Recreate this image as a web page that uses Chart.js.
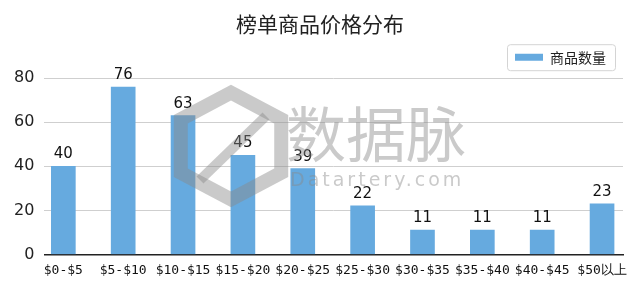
<!DOCTYPE html>
<html>
<head>
<meta charset="utf-8">
<script src="https://cdn.jsdelivr.net/npm/chart.js@4"></script>
<style>
  html, body { margin: 0; padding: 0; background: #fff; }
  #wrap { width: 640px; height: 291px; position: relative; }
</style>
</head>
<body>
<div id="wrap"><canvas id="price-chart"></canvas></div>
<script>
// Price buckets and product counts
let categories = ['$0-$5', '$5-$10', '$10-$15', '$15-$20', '$20-$25', '$25-$30', '$30-$35', '$35-$40', '$40-$45', '$50以上'];
let counts = [40, 76, 63, 45, 39, 22, 11, 11, 11, 23];
let yTicks = [0, 20, 40, 60, 80];

let chartTitle = '榜单商品价格分布';
let seriesName = '商品数量';
let barColor = '#66aadf';

// Centre the title on the whole canvas, lift title and legend a little
let placeBlocks = {
    id: 'placeBlocks',
    afterLayout(chart) {
        let t = chart.titleBlock;
        if (t) { t.left = 0; t.right = chart.width; t.width = chart.width; t.top -= 3; t.bottom -= 3; }
        let lg = chart.legend;
        if (lg) { lg.right -= 4; lg.top -= 4; lg.bottom -= 4; }
    }
};

// Draws the value above every bar
let valueLabels = {
    id: 'valueLabels',
    afterDatasetsDraw(chart) {
        let ctx = chart.ctx;
        let meta = chart.getDatasetMeta(0);
        ctx.save();
        ctx.font = '15px "DejaVu Sans"';
        ctx.fillStyle = '#111';
        ctx.textAlign = 'center';
        ctx.textBaseline = 'alphabetic';
        meta.data.forEach((bar, i) => {
            ctx.fillText(counts[i], bar.x, bar.y - 8);
        });
        ctx.restore();
    }
};

// Rounded frame round the legend
let legendFrame = {
    id: 'legendFrame',
    afterDraw(chart) {
        let lg = chart.legend;
        if (!lg || !lg.legendHitBoxes.length) return;
        let hb = lg.legendHitBoxes[0];
        let ctx = chart.ctx;
        let x = hb.left - 8, y = hb.top - 6, w = hb.width + 17, h = hb.height + 12;
        ctx.save();
        ctx.strokeStyle = '#d4d4d4';
        ctx.lineWidth = 1;
        ctx.beginPath();
        ctx.roundRect(x + 0.5, y + 0.5, w, h, 3);
        ctx.stroke();
        ctx.restore();
    }
};

// Watermark over the plot
let watermark = {
    id: 'watermark',
    afterDraw(chart) {
        let ctx = chart.ctx;
        ctx.save();
        ctx.globalAlpha = 0.45;
        ctx.strokeStyle = '#8a8a8a';
        ctx.fillStyle = '#8a8a8a';
        // hexagon logo
        ctx.lineWidth = 14;
        ctx.beginPath();
        let cx = 231, cy = 146, r = 58;
        for (let k = 0; k < 6; k++) {
            let a = Math.PI / 3 * k - Math.PI / 2;
            let px = cx + r * Math.cos(a), py = cy + r * 0.92 * Math.sin(a);
            if (k === 0) ctx.moveTo(px, py); else ctx.lineTo(px, py);
        }
        ctx.closePath();
        ctx.stroke();
        ctx.lineWidth = 10;
        ctx.beginPath();
        ctx.moveTo(200, 180);
        ctx.lineTo(266, 116);
        ctx.stroke();
        ctx.font = '60px "Noto Sans CJK SC"';
        ctx.textAlign = 'left';
        ctx.textBaseline = 'alphabetic';
        ctx.fillText('数据脉', 286, 157);
        ctx.font = '19px "DejaVu Sans"';
        ctx.letterSpacing = '3px';
        ctx.fillText('Datartery.com', 290, 186);
        ctx.restore();
    }
};

let priceChart = new Chart(document.getElementById('price-chart'),
    {
        type: 'bar',
        data: {
            datasets: [
                {
                    label: seriesName,
                    data: counts.map((v, i) => ({ x: i, y: v })),
                    backgroundColor: barColor,
                    barThickness: 24
                }
            ]
        },
        options: {
            responsive: true,
            maintainAspectRatio: false,
            animation: false,
            layout: { padding: { left: 4, right: 17, top: 3, bottom: 5 } },
            scales: {
                x: {
                    type: 'linear',
                    offset: false,
                    min: -0.317,
                    max: 9.35,
                    afterBuildTicks: axis => { axis.ticks = categories.map((c, i) => ({ value: i })); },
                    afterFit: axis => { axis.paddingLeft = 0; axis.paddingRight = 0; },
                    ticks: {
                        autoSkip: false,
                        maxRotation: 0,
                        color: '#111',
                        font: { family: '"DejaVu Sans Mono"', size: 13 },
                        padding: 8,
                        callback: v => categories[v]
                    },
                    grid: { display: false, drawTicks: false },
                    border: { display: true, color: '#222', width: 1.5 }
                },
                y: {
                    min: 0,
                    max: 80,
                    afterBuildTicks: axis => { axis.ticks = yTicks.map(v => ({ value: v })); },
                    ticks: {
                        color: '#222',
                        font: { family: '"DejaVu Sans"', size: 16 },
                        padding: 10
                    },
                    grid: { color: '#cfcfcf', drawTicks: false },
                    border: { display: false }
                }
            },
            plugins: {
                title: {
                    display: true,
                    text: chartTitle,
                    color: '#222',
                    font: { family: '"Noto Sans CJK SC"', size: 21, weight: 'normal' },
                    padding: { top: 11, bottom: 2 }
                },
                legend: {
                    display: true,
                    position: 'top',
                    align: 'end',
                    labels: {
                        boxWidth: 28,
                        boxHeight: 7,
                        color: '#222',
                        font: { family: '"Noto Sans CJK SC"', size: 14 },
                        padding: 13
                    }
                },
                tooltip: { enabled: false }
            }
        },
        plugins: [placeBlocks, valueLabels, legendFrame, watermark]
    }
);
</script>
</body>
</html>
